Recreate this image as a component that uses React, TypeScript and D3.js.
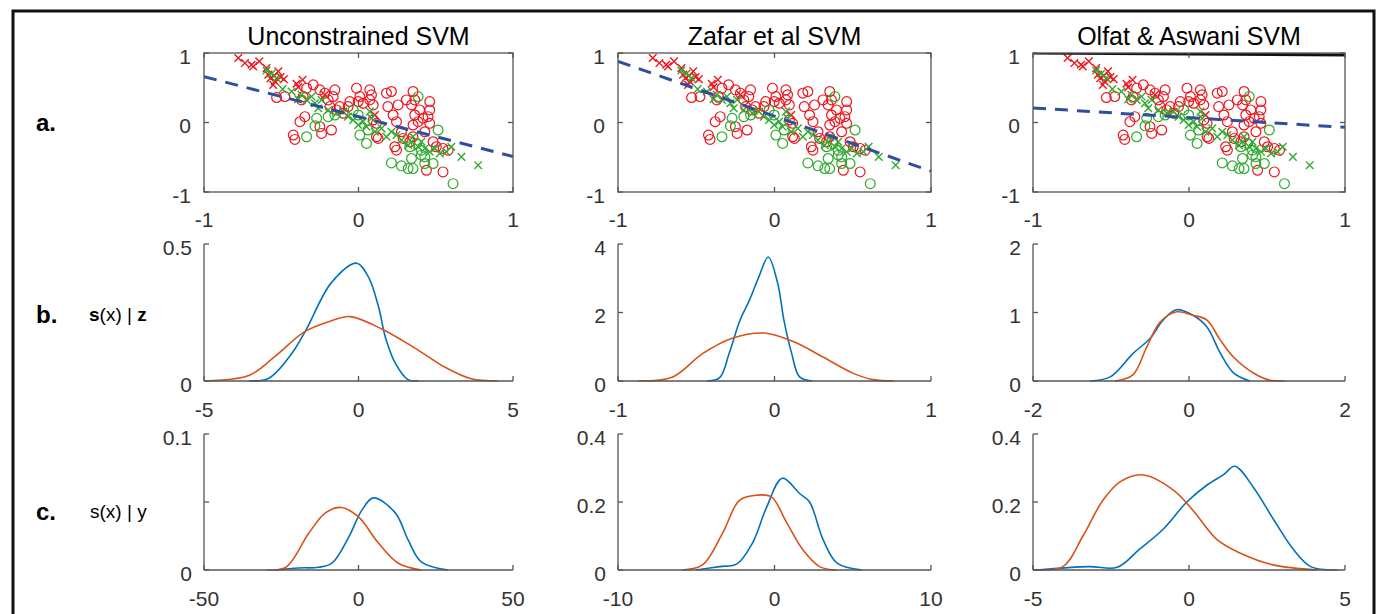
import React from "react";
import * as d3 from "d3";

const W = 1386;
const H = 614;
const FONT = "'Liberation Sans', Arial, Helvetica, sans-serif";

const methods = ["Unconstrained SVM", "Zafar et al SVM", "Olfat & Aswani SVM"];

// scatter (same data in every column)
const redCross = [
  [-0.778, 0.928], [-0.735, 0.855], [-0.692, 0.831], [-0.681, 0.807], [-0.642, 0.88],
  [-0.595, 0.783], [-0.584, 0.687], [-0.569, 0.639], [-0.547, 0.672], [-0.519, 0.735],
  [-0.504, 0.653], [-0.483, 0.624], [-0.541, 0.59], [-0.552, 0.542], [-0.401, 0.557],
  [-0.362, 0.614], [-0.39, 0.508], [-0.218, 0.398], [0.106, 0.108],
];
const greenCross = [
  [-0.595, 0.749], [-0.563, 0.701], [-0.53, 0.639], [-0.491, 0.48], [-0.433, 0.446],
  [-0.39, 0.335], [-0.369, 0.398], [-0.336, 0.325], [-0.304, 0.373], [-0.282, 0.277],
  [-0.261, 0.205], [-0.239, 0.325], [-0.196, 0.181], [-0.142, 0.133], [-0.099, 0.157],
  [-0.067, 0.084], [-0.034, 0.036], [-0.002, -0.036], [0.03, 0.012], [0.052, -0.06],
  [0.073, 0.157], [0.084, 0.06], [0.106, -0.133], [0.149, -0.084], [0.181, -0.205],
  [0.213, -0.133], [0.246, -0.181], [0.278, -0.253], [0.321, -0.325], [0.353, -0.205],
  [0.386, -0.349], [0.407, -0.277], [0.429, -0.373], [0.461, -0.422], [0.494, -0.373],
  [0.526, -0.446], [0.569, -0.422], [0.601, -0.349], [0.666, -0.494], [0.774, -0.614],
];
const redCircle = [
  [-0.53, 0.359], [-0.476, 0.373], [-0.358, 0.373], [-0.369, 0.325], [-0.336, 0.494],
  [-0.293, 0.542], [-0.25, 0.47], [-0.218, 0.422], [-0.196, 0.325], [-0.153, 0.47],
  [-0.164, 0.373], [-0.185, 0.229], [-0.142, 0.181], [-0.121, 0.229], [-0.099, 0.133],
  [-0.067, 0.229], [-0.056, 0.301], [-0.013, 0.494], [-0.002, 0.301], [0.073, 0.47],
  [0.084, 0.398], [0.073, 0.325], [0.095, 0.253], [0.181, 0.422], [0.213, 0.446],
  [0.19, 0.229], [0.256, 0.253], [0.224, 0.108], [0.246, 0.012], [0.278, -0.133],
  [0.235, -0.349], [0.246, -0.398], [0.31, 0.325], [0.353, 0.446], [0.364, 0.325],
  [0.343, 0.253], [0.396, 0.181], [0.364, 0.108], [0.386, 0.012], [0.353, -0.036],
  [0.418, 0.06], [0.461, 0.301], [0.461, 0.181], [0.45, 0.084], [0.461, -0.012],
  [0.429, -0.133], [0.353, -0.205], [0.289, -0.229], [0.332, -0.277], [0.483, -0.277],
  [0.504, -0.349], [0.547, -0.373], [0.58, -0.398], [0.44, -0.687], [0.547, -0.711],
  [0.116, -0.205], [0.127, -0.229], [-0.379, 0.012], [-0.347, 0.084], [-0.422, -0.181],
  [-0.412, -0.243], [-0.25, -0.06], [-0.239, -0.157], [-0.175, -0.108], [0.009, 0.373],
  [0.03, 0.277], [0.095, 0.036], [0.116, -0.012],
];
const greenCircle = [
  [-0.336, -0.205], [-0.282, -0.048], [-0.271, 0.06], [-0.196, 0.084], [-0.153, 0.108],
  [-0.034, 0.181], [-0.002, 0.108], [0.009, -0.181], [0.052, -0.301], [0.062, -0.108],
  [0.213, -0.581], [0.278, -0.624], [0.321, -0.663], [0.353, -0.663], [0.343, -0.518],
  [0.407, -0.398], [0.429, -0.494], [0.429, -0.59], [0.483, -0.59], [0.515, -0.108],
  [0.386, 0.373], [0.407, -0.47], [0.612, -0.88], [0.332, -0.349], [0.375, -0.301],
];

// decision boundary: y at x=-1 and x=1
const boundaryY = [[0.66, -0.49], [0.88, -0.7], [0.21, -0.07]];
const extraLineY = [null, null, [1.0, 0.97]];

// row b: s(x) | z
const szXDomain = [[-5, 5], [-1, 1], [-2, 2]];
const szYTicks = [[0, 0.5], [0, 2, 4], [0, 1, 2]];
const szBlue = [
  [[-3.55, 0], [-2.9, 0.01], [-2.16, 0.1], [-1.7, 0.186], [-0.87, 0.36], [-0.06, 0.43], [0.32, 0.38], [0.65, 0.27], [0.87, 0.16], [1.19, 0.065], [1.6, 0.005], [1.94, 0]],
  [[-0.43, 0], [-0.35, 0.1], [-0.29, 0.8], [-0.22, 1.78], [-0.16, 2.36], [-0.1, 3.04], [-0.04, 3.62], [0.02, 2.86], [0.06, 1.78], [0.11, 0.8], [0.16, 0.12], [0.24, 0]],
  [[-1.27, 0], [-1.01, 0.06], [-0.72, 0.4], [-0.5, 0.62], [-0.33, 0.89], [-0.16, 1.04], [0.05, 0.96], [0.23, 0.79], [0.4, 0.41], [0.57, 0.12], [0.78, 0]],
];
const szOrange = [
  [[-4.95, 0], [-3.55, 0.02], [-2.7, 0.09], [-1.74, 0.18], [-0.87, 0.22], [-0.27, 0.235], [0.75, 0.19], [1.83, 0.12], [2.8, 0.05], [3.65, 0.008], [4.5, 0]],
  [[-0.87, 0], [-0.65, 0.12], [-0.46, 0.8], [-0.27, 1.25], [-0.065, 1.4], [0.12, 1.15], [0.31, 0.7], [0.5, 0.23], [0.63, 0.04], [0.76, 0]],
  [[-0.95, 0], [-0.72, 0.09], [-0.54, 0.5], [-0.37, 0.86], [-0.16, 1.01], [0.05, 0.96], [0.23, 0.89], [0.4, 0.6], [0.57, 0.35], [0.82, 0.12], [1.04, 0.01], [1.23, 0]],
];

// row c: s(x) | y
const syXDomain = [[-50, 50], [-10, 10], [-5, 5]];
const syYTicks = [[0, 0.05, 0.1], [0, 0.2, 0.4], [0, 0.2, 0.4]];
const syYLabels = [["0", "", "0.1"], ["0", "0.2", "0.4"], ["0", "0.2", "0.4"]];
const syBlue = [
  [[-26.8, 0], [-19.4, 0.0015], [-12.9, 0.002], [-8.6, 0.005], [-3.2, 0.024], [1.1, 0.044], [4.8, 0.053], [11.9, 0.042], [16.1, 0.022], [20.3, 0.006], [29, 0]],
  [[-5, 0], [-3.5, 0.01], [-2.4, 0.018], [-1.4, 0.08], [-0.5, 0.185], [0.5, 0.27], [1.6, 0.225], [2.24, 0.2], [3.1, 0.09], [4, 0.02], [5.6, 0]],
  [[-4.9, 0], [-3.2, 0.01], [-2.3, 0.008], [-1.6, 0.06], [-0.83, 0.12], [-0.07, 0.2], [0.58, 0.25], [1.1, 0.28], [1.47, 0.305], [2.05, 0.245], [2.7, 0.15], [3.35, 0.06], [3.9, 0.01], [4.75, 0]],
];
const syOrange = [
  [[-29.7, 0], [-23.5, 0.002], [-16.1, 0.027], [-10.7, 0.042], [-5.5, 0.046], [0, 0.039], [6.4, 0.02], [12.9, 0.005], [20.3, 0]],
  [[-5.9, 0], [-4.6, 0.015], [-3.3, 0.11], [-2.24, 0.205], [-1.15, 0.22], [-0.2, 0.215], [0.77, 0.14], [1.8, 0.06], [2.88, 0.01], [3.97, 0]],
  [[-5, 0], [-4.04, 0.01], [-3.4, 0.1], [-2.76, 0.205], [-2.2, 0.26], [-1.5, 0.28], [-0.5, 0.235], [0.13, 0.175], [0.89, 0.09], [1.63, 0.05], [2.7, 0.015], [4.1, 0]],
];

const cols = [[204, 513], [618, 931], [1033, 1345]];
const rowA = [53, 192];
const rowB = [244, 381];
const rowC = [434, 570];

const AX = "#555";
const TXT = "#333";
const RED = "#f0141e";
const GREEN = "#2eaa2e";
const BLUE = "#0072BD";
const ORANGE = "#D95319";
const TICK = 5;

function fmt(v: number) {
  return v < 0 ? "-" + Math.abs(v) : String(v);
}

function Scatter({ i }: { i: number }) {
  const [x0, x1] = cols[i];
  const x = d3.scaleLinear().domain([-1, 1]).range([x0, x1]);
  const y = d3.scaleLinear().domain([-1, 1]).range([rowA[1], rowA[0]]);
  const ticks = [-1, 0, 1];
  const line = d3.line<number[]>().x((d) => x(d[0])).y((d) => y(d[1]));
  const b = boundaryY[i];
  const e = extraLineY[i];
  const cross = (d: number[]) =>
    `M${x(d[0]) - 3.8},${y(d[1]) - 3.8}l7.6,7.6M${x(d[0]) - 3.8},${y(d[1]) + 3.8}l7.6,-7.6`;
  return (
    <g>
      <defs>
        <clipPath id={"clipA" + i}>
          <rect x={x0} y={rowA[0]} width={x1 - x0} height={rowA[1] - rowA[0]} />
        </clipPath>
      </defs>
      <g clipPath={`url(#clipA${i})`}>
        {redCircle.map((d, k) => (
          <circle key={"rc" + k} cx={x(d[0])} cy={y(d[1])} r={4.9} fill="none" stroke={RED} strokeWidth={1.2} />
        ))}
        {greenCircle.map((d, k) => (
          <circle key={"gc" + k} cx={x(d[0])} cy={y(d[1])} r={4.9} fill="none" stroke={GREEN} strokeWidth={1.2} />
        ))}
        {redCross.map((d, k) => (
          <path key={"rx" + k} d={cross(d)} stroke={RED} strokeWidth={1.4} />
        ))}
        {greenCross.map((d, k) => (
          <path key={"gx" + k} d={cross(d)} stroke={GREEN} strokeWidth={1.4} />
        ))}
        <path d={line([[-1, b[0]], [1, b[1]]]) || ""} stroke="#2f4e9e" strokeWidth={3} strokeDasharray="13,9" fill="none" />
        {e && <path d={line([[-1, e[0]], [1, e[1]]]) || ""} stroke="#111" strokeWidth={3} fill="none" />}
      </g>
      <rect x={x0} y={rowA[0]} width={x1 - x0} height={rowA[1] - rowA[0]} fill="none" stroke={AX} strokeWidth={1.3} />
      {ticks.map((t) => (
        <g key={"t" + t}>
          <line x1={x(t)} x2={x(t)} y1={rowA[1]} y2={rowA[1] - TICK} stroke={AX} strokeWidth={1.3} />
          <line x1={x(t)} x2={x(t)} y1={rowA[0]} y2={rowA[0] + TICK} stroke={AX} strokeWidth={1.3} />
          <line x1={x0} x2={x0 + TICK} y1={y(t)} y2={y(t)} stroke={AX} strokeWidth={1.3} />
          <line x1={x1} x2={x1 - TICK} y1={y(t)} y2={y(t)} stroke={AX} strokeWidth={1.3} />
          <text x={x(t)} y={rowA[1] + 27} textAnchor="middle" dominantBaseline="central" fontSize={21} fill={TXT}>{fmt(t)}</text>
          <text x={x0 - 13} y={y(t) + 3} textAnchor="end" dominantBaseline="central" fontSize={21} fill={TXT}>{fmt(t)}</text>
        </g>
      ))}
      <text x={(x0 + x1) / 2} y={45} textAnchor="middle" fontSize={25} fill="#000">{methods[i]}</text>
    </g>
  );
}

function Density({ i, id, row, xDom, yTicks, yLabels, blue, orange }: any) {
  const [x0, x1] = cols[i];
  const x = d3.scaleLinear().domain(xDom).range([x0, x1]);
  const y = d3.scaleLinear().domain([0, yTicks[yTicks.length - 1]]).range([row[1], row[0]]);
  const line = d3
    .line<number[]>()
    .x((d) => x(d[0]))
    .y((d) => y(d[1]))
    .curve(d3.curveCatmullRom.alpha(0.5));
  const xt = [xDom[0], 0, xDom[1]];
  return (
    <g>
      <defs>
        <clipPath id={id}>
          <rect x={x0} y={row[0] - 10} width={x1 - x0} height={row[1] - row[0] + 10.8} />
        </clipPath>
      </defs>
      <g clipPath={`url(#${id})`}>
        <path d={line(blue) || ""} stroke={BLUE} strokeWidth={1.6} fill="none" />
        <path d={line(orange) || ""} stroke={ORANGE} strokeWidth={1.6} fill="none" />
      </g>
      <line x1={x0} x2={x1} y1={row[1]} y2={row[1]} stroke={AX} strokeWidth={1.3} />
      <line x1={x0} x2={x0} y1={row[0]} y2={row[1]} stroke={AX} strokeWidth={1.3} />
      {xt.map((t: number) => (
        <g key={"x" + t}>
          <line x1={x(t)} x2={x(t)} y1={row[1]} y2={row[1] - TICK} stroke={AX} strokeWidth={1.3} />
          <text x={x(t)} y={row[1] + 28} textAnchor="middle" dominantBaseline="central" fontSize={21} fill={TXT}>{fmt(t)}</text>
        </g>
      ))}
      {yTicks.map((t: number, k: number) => (
        <g key={"y" + t}>
          <line x1={x0} x2={x0 + TICK} y1={y(t)} y2={y(t)} stroke={AX} strokeWidth={1.3} />
          <text x={x0 - 12} y={y(t) + 3} textAnchor="end" dominantBaseline="central" fontSize={21} fill={TXT}>{yLabels ? yLabels[k] : String(t)}</text>
        </g>
      ))}
    </g>
  );
}

export default function App() {
  return (
    <svg width={W} height={H} style={{ position: "absolute", left: 0, top: 0, background: "#fff" }} fontFamily={FONT}>
      <rect x={0} y={0} width={W} height={H} fill="#fff" />
      <rect x={13} y={11} width={1361} height={640} fill="none" stroke="#111" strokeWidth={3} />
      <text x={36} y={131} fontSize={24} fontWeight="bold" fill="#000">a.</text>
      <text x={36} y={323} fontSize={24} fontWeight="bold" fill="#000">b.</text>
      <text x={36} y={520} fontSize={24} fontWeight="bold" fill="#000">c.</text>
      <text x={89} y={321} fontSize={19} fill="#000">
        <tspan fontWeight="bold">s</tspan>(x) | <tspan fontWeight="bold">z</tspan>
      </text>
      <text x={90} y={518} fontSize={19} fill="#000">s(x) | y</text>
      {methods.map((m, i) => (
        <g key={m}>
          <Scatter i={i} />
          <Density i={i} id={"clipB" + i} row={rowB} xDom={szXDomain[i]} yTicks={szYTicks[i]} blue={szBlue[i]} orange={szOrange[i]} />
          <Density i={i} id={"clipC" + i} row={rowC} xDom={syXDomain[i]} yTicks={syYTicks[i]} yLabels={syYLabels[i]} blue={syBlue[i]} orange={syOrange[i]} />
        </g>
      ))}
    </svg>
  );
}
